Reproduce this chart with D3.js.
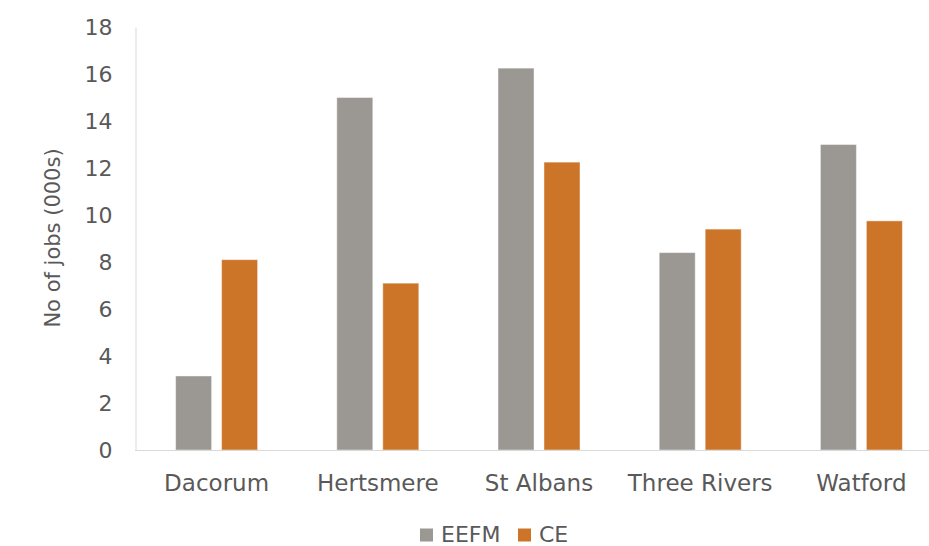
<!DOCTYPE html>
<html>
<head>
<meta charset="utf-8">
<script src="https://cdn.jsdelivr.net/npm/d3@7"></script>
<style>
  html, body { margin: 0; padding: 0; background: #ffffff; }
  svg { display: block; }
  text { font-family: "DejaVu Sans", Verdana, sans-serif; fill: #595959; }
</style>
</head>
<body>
<svg id="chart" width="929" height="546"></svg>
<script>
const categories = ["Dacorum", "Hertsmere", "St Albans", "Three Rivers", "Watford"];
const seriesNames = ["EEFM", "CE"];
const eefmValues = [3.15, 15.0, 16.25, 8.4, 13.0];
const ceValues = [8.1, 7.1, 12.25, 9.4, 9.75];
const yTicks = [0, 2, 4, 6, 8, 10, 12, 14, 16, 18];
const colors = ["#9b9893", "#cc7428"];

const svg = d3.select("#chart");

const x0 = d3.scaleBand().domain(categories).range([136, 942]).paddingInner(0).paddingOuter(0);
const groupPad = (x0.bandwidth() - 82) / 2;
const x1 = d3.scaleBand().domain(seriesNames).range([groupPad, groupPad + 82]).paddingInner(0.217).paddingOuter(0);
const y = d3.scaleLinear().domain([0, 18]).range([450, 27]);

const seriesValues = [eefmValues, ceValues];
const rows = categories.map((c, i) => ({ cat: c, vals: seriesNames.map((s, j) => ({ s, j, v: seriesValues[j][i] })) }));

// bars
const g = svg.append("g");
g.selectAll("g.grp").data(rows).join("g")
  .attr("class", "grp")
  .attr("transform", d => `translate(${x0(d.cat)},0)`)
  .selectAll("rect").data(d => d.vals).join("rect")
  .attr("x", d => x1(d.s))
  .attr("width", x1.bandwidth())
  .attr("y", d => y(d.v))
  .attr("height", d => y(0) - y(d.v))
  .attr("fill", d => colors[d.j])
  .attr("stroke", "rgba(255,255,255,0.45)")
  .attr("stroke-width", 1);

// y axis
const yAxis = d3.axisLeft(y).tickValues(yTicks).tickSize(0).tickPadding(0).tickFormat(d3.format("d"));
const ya = svg.append("g").attr("transform", "translate(135.5,0)").call(yAxis);
ya.select(".domain").attr("stroke", "#d9d9d9").attr("stroke-width", 1);
ya.selectAll("text").attr("x", -23).style("font-size", "22px").attr("fill", "#595959")
  .style("font-family", '"DejaVu Sans", Verdana, sans-serif');

// x axis baseline
const xAxis = d3.axisBottom(x0).tickSize(0).tickPadding(0);
const xa = svg.append("g").attr("transform", "translate(0,450.5)").call(xAxis);
xa.select(".domain").attr("stroke", "#d9d9d9").attr("stroke-width", 1).attr("d", "M135,0H929");
xa.selectAll("text").attr("y", 24).attr("dy", "0.71em").style("font-size", "23px").attr("fill", "#595959")
  .style("font-family", '"DejaVu Sans", Verdana, sans-serif');

// y label
svg.append("text")
  .attr("transform", "translate(60,238) rotate(-90)")
  .attr("text-anchor", "middle")
  .style("font-size", "21px")
  .text("No of jobs (000s)");

// legend
const legendX = [420, 518];
const leg = svg.append("g");
seriesNames.forEach((s, j) => {
  leg.append("rect").attr("x", legendX[j]).attr("y", 528.5).attr("width", 13).attr("height", 13).attr("fill", colors[j]);
  leg.append("text").attr("x", legendX[j] + 21).attr("y", 541.5)
    .style("font-size", "22px").text(s);
});
</script>
</body>
</html>
